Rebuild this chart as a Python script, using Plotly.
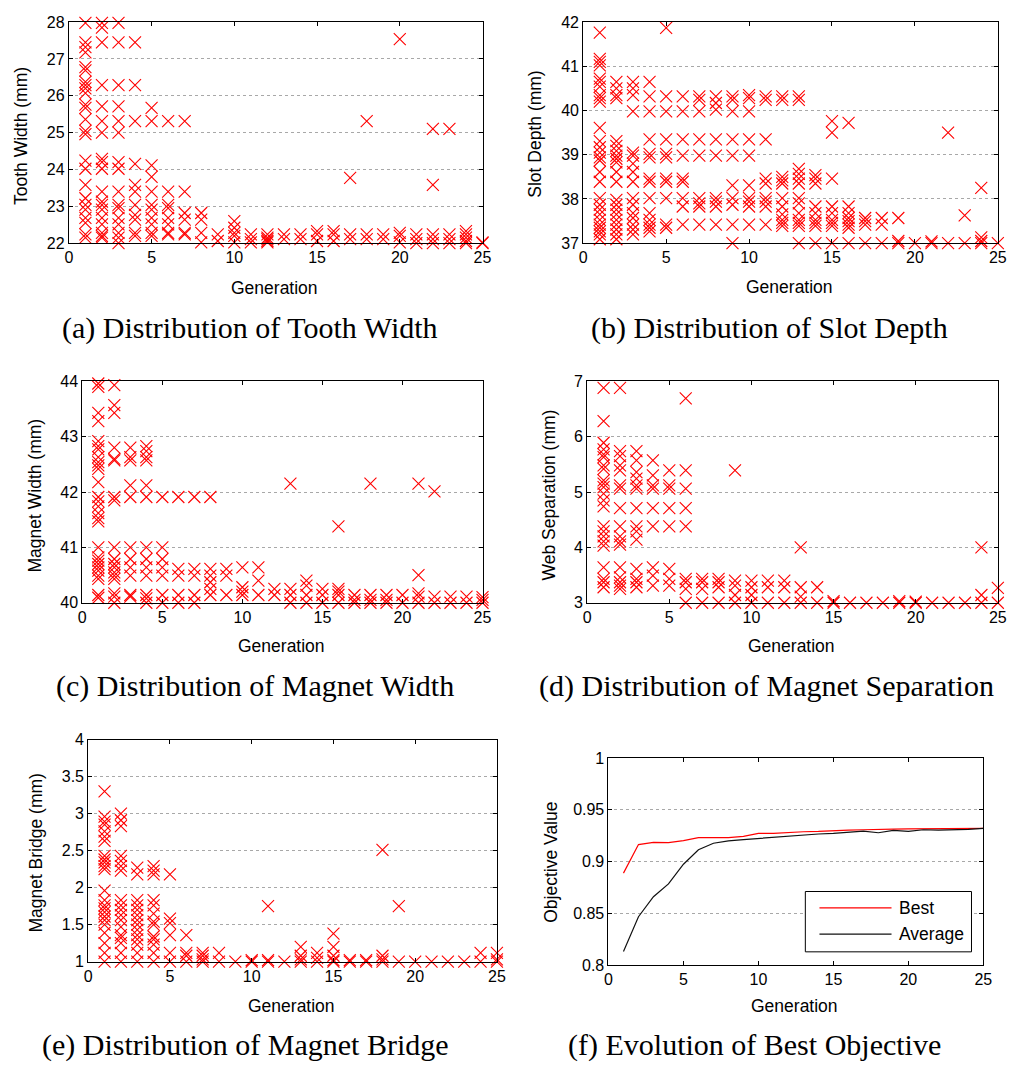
import plotly.graph_objects as go

W, H = 1018, 1075

# ---------------------------------------------------------------------------
# Design variables sampled in each generation (generation -> sampled values)
# ---------------------------------------------------------------------------
tooth_width = {
    1: [27.98, 27.45, 27.32, 27.18, 26.78, 26.69, 26.38, 26.29, 26.2, 26.07, 25.76, 25.67, 25.36,
        25.05, 24.96, 24.24, 24.02, 23.58, 23.22, 23.04, 22.91, 22.69, 22.55, 22.24, 22.15],
    2: [27.98, 27.85, 27.45, 26.29, 25.71, 25.31, 25.0, 24.29, 24.2, 24.02, 23.4, 23.13, 23.04,
        22.91, 22.69, 22.51, 22.28, 22.2, 22.15],
    3: [27.98, 27.45, 26.29, 25.71, 25.31, 25.0, 24.2, 24.02, 23.4, 23.04, 22.95, 22.69, 22.51,
        22.28, 22.15, 22.0],
    4: [27.45, 26.29, 25.31, 24.15, 23.58, 23.4, 23.04, 22.77, 22.64, 22.28, 22.2],
    5: [25.67, 25.31, 24.11, 23.8, 23.4, 23.04, 22.91, 22.69, 22.51, 22.28, 22.2],
    6: [25.31, 23.4, 23.04, 22.95, 22.69, 22.51, 22.28, 22.24],
    7: [25.31, 23.4, 22.82, 22.64, 22.28, 22.24],
    8: [22.82, 22.64, 22.28, 22.02],
    9: [22.24, 22.06],
    10: [22.6, 22.42, 22.28, 22.2, 22.02],
    11: [22.24, 22.11, 22.02],
    12: [22.24, 22.15, 22.11, 22.06, 22.02],
    13: [22.24, 22.11],
    14: [22.24, 22.11],
    15: [22.33, 22.24, 22.06],
    16: [22.33, 22.24, 22.06],
    17: [23.77, 22.24, 22.11],
    18: [25.31, 22.24, 22.11],
    19: [22.24, 22.11],
    20: [27.54, 22.28, 22.2, 22.02],
    21: [22.24, 22.11, 22.0],
    22: [25.1, 23.58, 22.24, 22.11, 22.0],
    23: [25.1, 22.24, 22.11, 22.0],
    24: [22.33, 22.24, 22.15, 22.06, 22.0],
    25: [22.02, 22.0],
}

slot_depth = {
    1: [41.76, 41.17, 41.1, 41.02, 40.72, 40.65, 40.54, 40.35, 40.28, 40.2, 39.61, 39.31, 39.17,
        39.05, 38.94, 38.87, 38.61, 38.39, 38.02, 37.87, 37.76, 37.65, 37.53, 37.42, 37.35, 37.27,
        37.2, 37.09],
    2: [40.65, 40.5, 40.35, 40.28, 39.31, 39.2, 39.09, 38.98, 38.91, 38.83, 38.61, 38.39, 37.98,
        37.87, 37.76, 37.65, 37.53, 37.42, 37.31, 37.2, 37.09],
    3: [40.65, 40.5, 40.35, 39.98, 39.05, 38.98, 38.8, 38.61, 38.39, 38.02, 37.87, 37.68, 37.57,
        37.42, 37.31, 37.2],
    4: [40.65, 40.32, 39.98, 39.35, 39.02, 38.94, 38.46, 38.39, 38.02, 37.68, 37.53, 37.42, 37.35,
        37.27],
    5: [41.87, 40.32, 39.98, 39.35, 39.02, 38.94, 38.46, 38.39, 38.02, 37.42, 37.35],
    6: [40.32, 39.98, 39.35, 38.98, 38.46, 38.39, 38.02, 37.83, 37.42],
    7: [40.32, 40.24, 39.98, 39.35, 38.98, 38.02, 37.9, 37.83, 37.42],
    8: [40.32, 40.17, 40.02, 39.35, 38.98, 38.02, 37.94, 37.83, 37.42],
    9: [40.32, 40.24, 39.98, 39.35, 38.98, 38.31, 38.02, 37.87, 37.42, 37.0],
    10: [40.35, 40.28, 39.98, 39.35, 38.98, 38.31, 38.02, 37.94, 37.83, 37.42],
    11: [40.32, 40.24, 39.35, 38.46, 38.35, 38.02, 37.94, 37.83, 37.42],
    12: [40.32, 40.24, 38.5, 38.42, 38.35, 38.02, 37.83, 37.65, 37.53, 37.46, 37.39],
    13: [40.32, 40.24, 38.68, 38.57, 38.46, 38.35, 38.02, 37.9, 37.68, 37.53, 37.46, 37.39, 37.0],
    14: [38.54, 38.46, 38.35, 37.83, 37.68, 37.53, 37.46, 37.39, 37.0],
    15: [39.76, 39.5, 38.46, 37.83, 37.68, 37.53, 37.46, 37.39, 37.0],
    16: [39.72, 37.83, 37.68, 37.57, 37.5, 37.42, 37.35, 37.0],
    17: [37.57, 37.5, 37.42, 37.0],
    18: [37.57, 37.42, 37.0],
    19: [37.57, 37.05, 37.0],
    20: [37.0],
    21: [37.04, 37.0],
    22: [39.5, 37.0],
    23: [37.63, 37.0],
    24: [38.25, 37.13, 37.05, 37.0],
    25: [37.0],
}

magnet_width = {
    1: [44.02, 43.96, 43.9, 43.43, 43.28, 42.92, 42.83, 42.77, 42.63, 42.54, 42.48, 42.42, 42.18,
        41.91, 41.83, 41.74, 41.62, 41.53, 41.47, 41.0, 40.82, 40.76, 40.7, 40.64, 40.58, 40.49,
        40.43, 40.14, 40.09],
    2: [44.02, 43.93, 43.57, 43.43, 42.8, 42.6, 42.57, 41.91, 41.85, 41.0, 40.79, 40.7, 40.64,
        40.55, 40.49, 40.43, 40.17, 40.11, 40.0],
    3: [44.02, 42.8, 42.63, 42.57, 42.12, 41.91, 41.0, 40.79, 40.64, 40.49, 40.14, 40.11],
    4: [42.83, 42.74, 42.63, 42.57, 42.12, 41.91, 41.0, 40.79, 40.64, 40.49, 40.14, 40.08, 40.0],
    5: [41.91, 41.0, 40.79, 40.64, 40.49, 40.14, 40.0],
    6: [41.91, 40.61, 40.49, 40.14, 40.0],
    7: [41.91, 40.61, 40.49, 40.14, 40.0],
    8: [41.91, 40.61, 40.49, 40.37, 40.25, 40.14],
    9: [40.61, 40.49, 40.14],
    10: [40.64, 40.28, 40.2, 40.14],
    11: [40.64, 40.4, 40.14],
    12: [40.25, 40.14],
    13: [42.15, 40.25, 40.14, 40.0],
    14: [40.4, 40.31, 40.14, 40.0],
    15: [40.25, 40.14, 40.0],
    16: [41.38, 40.25, 40.2, 40.14, 40.0],
    17: [40.14, 40.05, 40.0],
    18: [42.15, 40.14, 40.05, 40.0],
    19: [40.14, 40.05, 40.0],
    20: [40.14, 40.0],
    21: [42.15, 40.5, 40.17, 40.11, 40.0],
    22: [42.01, 40.11, 40.0],
    23: [40.11, 40.0],
    24: [40.11, 40.0],
    25: [40.1, 40.05, 40.0],
}

web_separation = {
    1: [6.88, 6.28, 5.89, 5.77, 5.68, 5.63, 5.48, 5.42, 5.21, 5.15, 5.09, 4.97, 4.85, 4.74, 4.38,
        4.29, 4.2, 4.11, 4.03, 3.64, 3.43, 3.37, 3.28],
    2: [6.88, 5.74, 5.65, 5.48, 5.39, 5.12, 5.06, 4.71, 4.38, 4.2, 4.11, 4.05, 3.64, 3.46, 3.37,
        3.31, 3.25],
    3: [5.74, 5.57, 5.36, 5.24, 5.12, 5.06, 4.71, 4.38, 4.29, 4.14, 3.61, 3.43, 3.37, 3.28],
    4: [5.57, 5.3, 5.12, 5.06, 4.71, 4.38, 3.64, 3.49, 3.31],
    5: [5.39, 5.12, 5.06, 4.71, 4.38, 3.61, 3.43, 3.31],
    6: [6.69, 5.39, 5.06, 4.71, 4.38, 3.43, 3.37, 3.25, 3.0],
    7: [3.43, 3.37, 3.25, 3.0],
    8: [3.43, 3.37, 3.28, 3.0],
    9: [5.39, 3.4, 3.31, 3.14, 3.0],
    10: [3.4, 3.28, 3.14, 3.0],
    11: [3.4, 3.28, 3.0],
    12: [3.4, 3.28, 3.0],
    13: [4.0, 3.28, 3.11, 3.0],
    14: [3.28, 3.0],
    15: [3.03, 3.0],
    16: [3.0],
    17: [3.0],
    18: [3.0],
    19: [3.03, 3.0],
    20: [3.02, 3.0],
    21: [3.0],
    22: [3.0],
    23: [3.0],
    24: [4.0, 3.14, 3.0],
    25: [3.27, 3.0],
}

magnet_bridge = {
    1: [3.3, 2.96, 2.89, 2.85, 2.76, 2.69, 2.63, 2.43, 2.38, 2.34, 2.29, 2.25, 1.96, 1.83, 1.76,
        1.72, 1.67, 1.61, 1.56, 1.5, 1.39, 1.25, 1.12, 1.0],
    2: [3.0, 2.91, 2.83, 2.43, 2.36, 2.29, 2.23, 1.83, 1.76, 1.7, 1.63, 1.56, 1.47, 1.36, 1.32,
        1.25, 1.12, 1.0],
    3: [2.27, 2.18, 1.83, 1.76, 1.7, 1.63, 1.56, 1.5, 1.43, 1.36, 1.3, 1.23, 1.12, 1.0],
    4: [2.29, 2.23, 2.18, 1.83, 1.76, 1.65, 1.54, 1.5, 1.34, 1.3, 1.23, 1.12, 1.0],
    5: [2.18, 1.58, 1.52, 1.36, 1.12, 1.0],
    6: [1.36, 1.12, 1.08, 1.0],
    7: [1.12, 1.08, 1.03, 1.0],
    8: [1.12, 1.0],
    9: [1.0],
    10: [1.02, 1.0],
    11: [1.75, 1.02, 1.0],
    12: [1.0],
    13: [1.2, 1.08, 1.03, 1.0],
    14: [1.12, 1.05, 1.0],
    15: [1.38, 1.2, 1.08, 1.02, 1.0],
    16: [1.02, 1.0],
    17: [1.02, 1.0],
    18: [2.51, 1.08, 1.03, 1.0],
    19: [1.75, 1.0],
    20: [1.0],
    21: [1.0],
    22: [1.0],
    23: [1.0],
    24: [1.12, 1.0],
    25: [1.12, 1.03, 1.0],
}

# Objective value per generation
generations = list(range(1, 26))
best_objective = [0.8887, 0.9163, 0.9185, 0.9182, 0.9201, 0.9230, 0.9230, 0.9230, 0.9242, 0.9271,
                  0.9271, 0.9280, 0.9287, 0.9290, 0.9300, 0.9303, 0.9306, 0.9312, 0.9312, 0.9315,
                  0.9315, 0.9315, 0.9315, 0.9315, 0.9319]
average_objective = [0.8130, 0.8466, 0.8659, 0.8783, 0.8973, 0.9113, 0.9176, 0.9198, 0.9211,
                     0.9223, 0.9230, 0.9242, 0.9255, 0.9265, 0.9271, 0.9280, 0.9293, 0.9277,
                     0.9300, 0.9290, 0.9306, 0.9303, 0.9303, 0.9309, 0.9319]

captions = ["(a) Distribution of Tooth Width", "(b) Distribution of Slot Depth",
            "(c) Distribution of Magnet Width", "(d) Distribution of Magnet Separation",
            "(e) Distribution of Magnet Bridge", "(f) Evolution of Best Objective"]
y_titles = ["Tooth Width (mm)", "Slot Depth (mm)", "Magnet Width (mm)",
            "Web Separation (mm)", "Magnet Bridge (mm)", "Objective Value"]
x_title = "Generation"

# ---------------------------------------------------------------------------
# Page geometry (pixels) for each panel: left, right, top, bottom
# ---------------------------------------------------------------------------
boxes = [
    (65.7, 484.7, 14.3, 239.0),
    (586.7, 1006.7, 14.3, 239.0),
    (79.3, 484.7, 379.3, 604.3),
    (590.7, 1006.7, 379.3, 604.3),
    (85.3, 499.3, 743.3, 969.0),
    (612.3, 992.0, 762.0, 972.3),
]
y_ranges = [(22, 28, 1), (37, 42, 1), (40, 44, 1), (3, 7, 1), (1, 4, 0.5), (0.8, 1.0, 0.05)]
x_title_pos = [(273.7, 284.3), (795.3, 283.7), (281.0, 648.7), (797.7, 648.7), (291.0, 1013.7),
               (801.0, 1014.3)]
y_title_pos = [(17.3, 130.0), (538.3, 128.3), (31.7, 495.0), (552.3, 495.0), (32.3, 858.3),
               (553.3, 868.3)]
caption_pos = [(249.5, 325.0), (775.5, 325.0), (254.0, 689.0), (772.0, 689.0), (244.5, 1054.0),
               (760.5, 1054.0)]


def px(x):
    return x / W


def py(y):
    return 1 - y / H


SANS = "Liberation Sans, Arial, sans-serif"
SERIF = "Liberation Serif, Times New Roman, serif"
RED = "#ff0000"

fig = go.Figure()

scatter_sets = [tooth_width, slot_depth, magnet_width, web_separation, magnet_bridge]
for i, data in enumerate(scatter_sets):
    xs = [g for g, vals in data.items() for _ in vals]
    ys = [v for vals in data.values() for v in vals]
    sfx = "" if i == 0 else str(i + 1)
    fig.add_trace(go.Scatter(
        x=xs, y=ys, mode="markers", xaxis="x" + sfx, yaxis="y" + sfx,
        marker=dict(symbol="x-thin", size=12, line=dict(color=RED, width=1.1)),
        cliponaxis=False, showlegend=False, hoverinfo="x+y",
    ))

fig.add_trace(go.Scatter(x=generations, y=best_objective, mode="lines", xaxis="x6", yaxis="y6",
                         line=dict(color=RED, width=1.2), name="Best", showlegend=False))
fig.add_trace(go.Scatter(x=generations, y=average_objective, mode="lines", xaxis="x6", yaxis="y6",
                         line=dict(color="#111111", width=1.2), name="Average", showlegend=False))

layout = dict(
    width=W, height=H, autosize=False,
    margin=dict(l=0, r=0, t=0, b=0),
    paper_bgcolor="white", plot_bgcolor="white",
    showlegend=False,
    font=dict(family=SANS, color="black"),
)

annotations = []
for i, (l, r, t, b) in enumerate(boxes):
    sfx = "" if i == 0 else str(i + 1)
    y0, y1, dy = y_ranges[i]
    common = dict(showline=True, linecolor="black", linewidth=1, mirror="ticks",
                  ticks="inside", ticklen=4, tickwidth=1, tickcolor="black",
                  zeroline=False, tickfont=dict(family=SANS, size=16, color="black"))
    layout["xaxis" + sfx] = dict(domain=[px(l), px(r)], range=[0, 25], dtick=5, tick0=0,
                                 anchor="y" + sfx, showgrid=False, **common)
    layout["yaxis" + sfx] = dict(domain=[py(b), py(t)], range=[y0, y1], dtick=dy, tick0=y0,
                                 anchor="x" + sfx, showgrid=True, gridcolor="#a8a8a8",
                                 griddash="dot", gridwidth=1, **common)
    xt, yt = x_title_pos[i]
    annotations.append(dict(text=x_title, x=px(xt), y=py(yt), xref="paper", yref="paper",
                            showarrow=False, xanchor="center", yanchor="middle",
                            font=dict(family=SANS, size=17.5, color="black")))
    xt, yt = y_title_pos[i]
    annotations.append(dict(text=y_titles[i], x=px(xt), y=py(yt), xref="paper", yref="paper",
                            showarrow=False, xanchor="center", yanchor="middle", textangle=-90,
                            font=dict(family=SANS, size=17.5, color="black")))
    xc, yc = caption_pos[i]
    annotations.append(dict(text=captions[i], x=px(xc), y=py(yc), xref="paper", yref="paper",
                            showarrow=False, xanchor="center", yanchor="middle",
                            font=dict(family=SERIF, size=30, color="black")))

# Legend for the objective panel, drawn as a framed key
legend_box = (811.7, 980.0, 897.7, 959.0)
legend_rows = [("Best", RED, 914.3), ("Average", "#111111", 941.0)]
shapes = [dict(type="rect", xref="paper", yref="paper",
               x0=px(legend_box[0]), x1=px(legend_box[1]),
               y0=py(legend_box[3]), y1=py(legend_box[2]),
               line=dict(color="black", width=1), fillcolor="white", layer="above")]
for label, color, yy in legend_rows:
    shapes.append(dict(type="line", xref="paper", yref="paper", x0=px(826), x1=px(899),
                       y0=py(yy), y1=py(yy), line=dict(color=color, width=1.2), layer="above"))
    annotations.append(dict(text=label, x=px(905), y=py(yy), xref="paper", yref="paper",
                            showarrow=False, xanchor="left", yanchor="middle",
                            font=dict(family=SANS, size=17.5, color="black")))

layout["annotations"] = annotations
layout["shapes"] = shapes
fig.update_layout(**layout)

fig.write_html("out.html")
